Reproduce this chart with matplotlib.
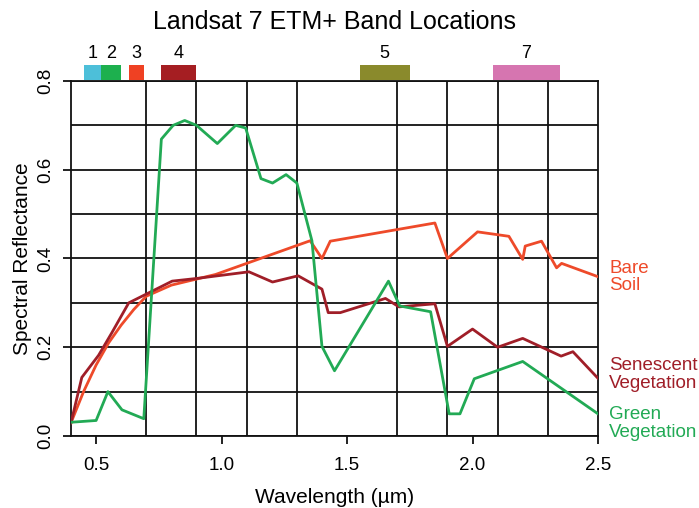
import numpy as np
import matplotlib
matplotlib.use('Agg')
import matplotlib.pyplot as plt
from matplotlib.ticker import MultipleLocator, FixedLocator

plt.rcParams['font.family'] = ['Liberation Sans', 'DejaVu Sans']

# spectral curves (wavelength in um, reflectance)
soil_x = [0.40, 0.45, 0.50, 0.55, 0.60, 0.65, 0.70, 0.80, 0.976, 1.353, 1.40, 1.433,
          1.85, 1.90, 2.02, 2.145, 2.20, 2.21, 2.275, 2.335, 2.355, 2.50]
soil_y = [0.03, 0.10, 0.16, 0.21, 0.25, 0.285, 0.315, 0.34, 0.364, 0.44, 0.40, 0.439,
          0.48, 0.40, 0.46, 0.45, 0.398, 0.428, 0.439, 0.379, 0.389, 0.359]

sen_x = [0.40, 0.443, 0.51, 0.563, 0.63, 0.803, 0.90, 1.109, 1.203, 1.305, 1.40, 1.425,
         1.473, 1.653, 1.707, 1.85, 1.90, 2.00, 2.10, 2.20, 2.353, 2.40, 2.50]
sen_y = [0.03, 0.132, 0.182, 0.233, 0.30, 0.349, 0.355, 0.37, 0.347, 0.361, 0.331, 0.278,
         0.278, 0.31, 0.291, 0.298, 0.202, 0.241, 0.20, 0.22, 0.18, 0.19, 0.13]

green_x = [0.40, 0.50, 0.547, 0.603, 0.69, 0.76, 0.807, 0.853, 0.90, 0.983, 1.056, 1.096,
           1.157, 1.203, 1.257, 1.30, 1.36, 1.40, 1.45, 1.665, 1.71, 1.833, 1.907, 1.95,
           2.007, 2.20, 2.50]
green_y = [0.031, 0.035, 0.10, 0.059, 0.039, 0.669, 0.70, 0.711, 0.70, 0.659, 0.70, 0.694,
           0.58, 0.57, 0.589, 0.57, 0.44, 0.202, 0.147, 0.349, 0.293, 0.28, 0.05, 0.05,
           0.129, 0.168, 0.05]

# ETM+ bands
band_names = ['1', '2', '3', '4', '5', '7']
band_lo = [0.45, 0.52, 0.63, 0.76, 1.55, 2.08]
band_hi = [0.52, 0.60, 0.69, 0.90, 1.75, 2.35]
band_colors = ['#4DBFD9', '#1DB04E', '#EF4123', '#A51E22', '#8A8A2C', '#D675B0']

C_SOIL = '#EE4A2A'
C_SEN = '#A01E28'
C_GREEN = '#22AA55'
GRID = '#111111'

fig = plt.figure(figsize=(6.99, 5.08), dpi=100)
ax = fig.add_axes([0.1016, 0.1417, 0.7539, 0.6989])

ax.plot(soil_x, soil_y, color=C_SOIL, lw=2.0, zorder=3)
ax.plot(sen_x, sen_y, color=C_SEN, lw=2.0, zorder=3)
ax.plot(green_x, green_y, color=C_GREEN, lw=2.0, zorder=3)

ax.set_xlim(0.4, 2.5)
ax.set_ylim(0, 0.8)

ax.xaxis.set_major_locator(FixedLocator([0.5, 1.0, 1.5, 2.0, 2.5]))
ax.xaxis.set_minor_locator(FixedLocator(np.arange(0.5, 2.51, 0.2)))
ax.yaxis.set_major_locator(MultipleLocator(0.2))
ax.yaxis.set_minor_locator(MultipleLocator(0.1))
ax.grid(which='minor', color=GRID, lw=1.3)
ax.grid(which='major', axis='y', color=GRID, lw=1.3)
ax.tick_params(which='minor', length=0)
ax.tick_params(which='major', length=6, width=1.3, color=GRID, labelsize=13.5)
ax.tick_params(axis='x', pad=9)
ax.tick_params(axis='y', pad=6)
ax.set_xticklabels(['0.5', '1.0', '1.5', '2.0', '2.5'])
ax.set_yticks([0, 0.2, 0.4, 0.6, 0.8])
ax.set_yticklabels(['0.0', '0.2', '0.4', '0.6', '0.8'], rotation=90, va='center')
for s in ax.spines.values():
    s.set_color(GRID)
    s.set_linewidth(1.3)

ax.set_xlabel('Wavelength (\u00b5m)', fontsize=15, labelpad=10)
ax.set_ylabel('Spectral Reflectance', fontsize=15, labelpad=4)

# band boxes above the plot
widths = [h - l for l, h in zip(band_lo, band_hi)]
bars = ax.bar(band_lo, [0.034] * len(band_lo), width=widths, bottom=0.802,
              align='edge', color=band_colors)
for b in bars:
    b.set_clip_on(False)
for name, l, h in zip(band_names, band_lo, band_hi):
    ax.text((l + h) / 2, 0.862, name, ha='center', va='center', fontsize=13)
ax.set_ylim(0, 0.8)

# curve labels at the right
ax.text(2.545, 0.358, 'Bare\nSoil', color=C_SOIL, fontsize=13.5, va='center',
        linespacing=1.05, clip_on=False)
ax.text(2.545, 0.138, 'Senescent\nVegetation', color=C_SEN, fontsize=13.5, va='center',
        linespacing=1.05, clip_on=False)
ax.text(2.545, 0.028, 'Green\nVegetation', color=C_GREEN, fontsize=13.5, va='center',
        linespacing=1.05, clip_on=False)

fig.text(0.478, 0.957, 'Landsat 7 ETM+ Band Locations', ha='center', va='center',
         fontsize=18)

fig.savefig('out.png', dpi=100)
